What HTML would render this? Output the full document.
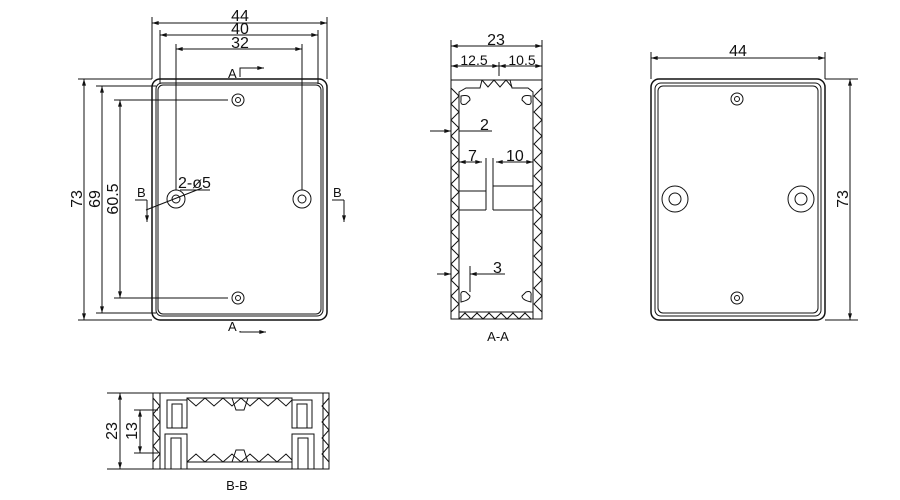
<!DOCTYPE html>
<html><head><style>
html,body{margin:0;padding:0;background:#fff;}
svg{display:block;}
text{font-family:"Liberation Sans",sans-serif;fill:#111;}
</style></head><body>
<svg width="900" height="500" viewBox="0 0 900 500" xmlns="http://www.w3.org/2000/svg">
<defs>
<marker id="a" viewBox="0 0 10 6" refX="10" refY="3" markerWidth="10" markerHeight="4" orient="auto-start-reverse"><path d="M0,0L10,3L0,6z" fill="#111"/></marker>
</defs>
<g stroke="#111" fill="none" stroke-width="1">
<!-- LEFT VIEW -->
<rect x="152" y="79" width="175" height="241" rx="8" stroke-width="1.5"/>
<rect x="156" y="83" width="167" height="233" rx="6"/>
<rect x="158" y="85" width="163" height="229" rx="5"/>
<circle cx="238" cy="100" r="6"/><circle cx="238" cy="100" r="2.5"/>
<circle cx="238" cy="298" r="6"/><circle cx="238" cy="298" r="2.5"/>
<circle cx="176" cy="199" r="9"/><circle cx="176" cy="199" r="4"/>
<circle cx="302" cy="199" r="9"/><circle cx="302" cy="199" r="4"/>
<line x1="152" y1="17" x2="152" y2="79"/><line x1="327" y1="17" x2="327" y2="79"/>
<line x1="160" y1="30" x2="160" y2="84"/><line x1="318" y1="30" x2="318" y2="84"/>
<line x1="176" y1="44" x2="176" y2="190"/><line x1="302" y1="44" x2="302" y2="190"/>
<line x1="152" y1="23" x2="327" y2="23" marker-start="url(#a)" marker-end="url(#a)"/>
<line x1="160" y1="35" x2="318" y2="35" marker-start="url(#a)" marker-end="url(#a)"/>
<line x1="176" y1="49" x2="302" y2="49" marker-start="url(#a)" marker-end="url(#a)"/>
<line x1="78" y1="79" x2="152" y2="79"/><line x1="78" y1="320" x2="152" y2="320"/>
<line x1="96" y1="86" x2="156" y2="86"/><line x1="96" y1="313" x2="156" y2="313"/>
<line x1="114" y1="100" x2="228" y2="100"/><line x1="114" y1="298" x2="228" y2="298"/>
<line x1="84" y1="79" x2="84" y2="320" marker-start="url(#a)" marker-end="url(#a)"/>
<line x1="102" y1="86" x2="102" y2="313" marker-start="url(#a)" marker-end="url(#a)"/>
<line x1="120" y1="100" x2="120" y2="298" marker-start="url(#a)" marker-end="url(#a)"/>
<line x1="146" y1="210" x2="202" y2="188"/><line x1="180" y1="190" x2="210" y2="190"/>
<polyline points="240,77 240,68 264,68"/><line x1="250" y1="68" x2="264" y2="68" marker-end="url(#a)"/>
<polyline points="240,331 240,332 264,332"/><line x1="252" y1="332" x2="266" y2="332" marker-end="url(#a)"/>
<polyline points="135,200 147,200"/><line x1="147" y1="200" x2="147" y2="222" marker-end="url(#a)"/>
<polyline points="332,200 344,200"/><line x1="344" y1="200" x2="344" y2="222" marker-end="url(#a)"/>
<!-- A-A SECTION -->
<rect x="451" y="80" width="91" height="239"/>
<polyline points="459,319 459,92 466,88 480,88 482,80"/>
<polyline points="533,319 533,92 528,88 512,88 510,80"/>
<line x1="459" y1="312" x2="533" y2="312"/>
<polyline points="451,88 459,96 451,104 459,112 451,120 459,128 451,136 459,144 451,152 459,160 451,168 459,176 451,184 459,192 451,200 459,208 451,216 459,224 451,232 459,240 451,248 459,256 451,264 459,272 451,280 459,288 451,296 459,304 451,312"/>
<polyline points="542,88 534,96 542,104 534,112 542,120 534,128 542,136 534,144 542,152 534,160 542,168 534,176 542,184 534,192 542,200 534,208 542,216 534,224 542,232 534,240 542,248 534,256 542,264 534,272 542,280 534,288 542,296 534,304 542,312"/>
<polyline points="482,80 488,87 494,80 500,87 506,80 512,87"/>
<polyline points="459,319 465,313 471,319 477,313 483,319 489,313 495,319 501,313 507,319 513,313 519,319 525,313 531,319"/>
<path d="M461,96 Q470,94 470,100 L466,104 Q460,106 461,100z"/>
<path d="M531,96 Q522,94 522,100 L526,104 Q532,106 531,100z"/>
<path d="M461,302 Q470,300 470,296 L466,292 Q460,290 461,296z"/>
<path d="M531,302 Q522,300 522,296 L526,292 Q532,290 531,296z"/>
<line x1="486" y1="158" x2="486" y2="210"/><line x1="493" y1="158" x2="493" y2="210"/>
<line x1="459" y1="191" x2="486" y2="191"/><line x1="459" y1="210" x2="486" y2="210"/>
<line x1="493" y1="186" x2="533" y2="186"/><line x1="493" y1="210" x2="533" y2="210"/>
<line x1="451" y1="40" x2="451" y2="80"/><line x1="542" y1="40" x2="542" y2="80"/>
<line x1="451" y1="46" x2="542" y2="46" marker-start="url(#a)" marker-end="url(#a)"/>
<line x1="451" y1="66" x2="499" y2="66" marker-start="url(#a)" marker-end="url(#a)"/>
<line x1="499" y1="66" x2="542" y2="66" marker-start="url(#a)" marker-end="url(#a)"/>
<line x1="499" y1="62" x2="499" y2="76"/>
<line x1="430" y1="131" x2="451" y2="131" marker-end="url(#a)"/><line x1="459" y1="131" x2="492" y2="131"/>
<line x1="459" y1="162" x2="482" y2="162" marker-start="url(#a)" marker-end="url(#a)"/>
<line x1="496" y1="162" x2="533" y2="162" marker-start="url(#a)" marker-end="url(#a)"/>
<line x1="437" y1="274" x2="451" y2="274" marker-end="url(#a)"/><line x1="470" y1="274" x2="505" y2="274" marker-start="url(#a)"/>
<line x1="470" y1="266" x2="470" y2="292"/>
<!-- RIGHT VIEW -->
<rect x="651" y="79" width="174" height="241" rx="8" stroke-width="1.5"/>
<rect x="655" y="83" width="166" height="233" rx="6"/>
<rect x="658" y="86" width="160" height="227" rx="5"/>
<circle cx="737" cy="99" r="6"/><circle cx="737" cy="99" r="2.5"/>
<circle cx="737" cy="298" r="6"/><circle cx="737" cy="298" r="2.5"/>
<circle cx="675" cy="199" r="13"/><circle cx="675" cy="199" r="6"/>
<circle cx="801" cy="199" r="13"/><circle cx="801" cy="199" r="6"/>
<line x1="651" y1="52" x2="651" y2="79"/><line x1="825" y1="52" x2="825" y2="79"/>
<line x1="651" y1="58" x2="825" y2="58" marker-start="url(#a)" marker-end="url(#a)"/>
<line x1="825" y1="79" x2="858" y2="79"/><line x1="825" y1="320" x2="858" y2="320"/>
<line x1="850" y1="79" x2="850" y2="320" marker-start="url(#a)" marker-end="url(#a)"/>
<!-- B-B SECTION -->
<rect x="153" y="393" width="176" height="76"/>
<line x1="160" y1="393" x2="160" y2="469"/><line x1="323" y1="393" x2="323" y2="469"/>
<polyline points="187,428 187,398 292,398 292,428"/>
<polyline points="187,436 187,462 292,462 292,436"/>
<polyline points="187,398 196,406 205,398 214,406 223,398 232,406 241,398 250,406 259,398 268,406 277,398 286,406 292,400"/>
<polyline points="187,462 196,454 205,462 214,454 223,462 232,454 241,462 250,454 259,462 268,454 277,462 286,454 292,460"/>
<path d="M232,398 L236,410 L244,410 L248,398"/>
<path d="M232,462 L236,450 L244,450 L248,462"/>
<rect x="167" y="400" width="20" height="28"/><rect x="172" y="404" width="10" height="24"/>
<rect x="165" y="434" width="22" height="35"/><rect x="171" y="438" width="10" height="31"/>
<rect x="292" y="400" width="20" height="28"/><rect x="297" y="404" width="10" height="24"/>
<rect x="292" y="434" width="22" height="35"/><rect x="298" y="438" width="10" height="31"/>
<polyline points="153,398 160,406 153,414 160,422 153,430 160,438 153,446 160,454 153,462"/>
<polyline points="329,398 322,406 329,414 322,422 329,430 322,438 329,446 322,454 329,462"/>
<line x1="107" y1="393" x2="153" y2="393"/><line x1="107" y1="469" x2="153" y2="469"/>
<line x1="134" y1="410" x2="158" y2="410"/><line x1="134" y1="453" x2="158" y2="453"/>
<line x1="120" y1="393" x2="120" y2="469" marker-start="url(#a)" marker-end="url(#a)"/>
<line x1="140" y1="410" x2="140" y2="453" marker-start="url(#a)" marker-end="url(#a)"/>
</g>
<g font-size="16">
<text x="240" y="21" text-anchor="middle">44</text>
<text x="240" y="34" text-anchor="middle">40</text>
<text x="240" y="48" text-anchor="middle">32</text>
<text x="228" y="78" font-size="13">A</text>
<text x="228" y="331" font-size="13">A</text>
<text x="137" y="197" font-size="13">B</text>
<text x="333" y="197" font-size="13">B</text>
<text x="178" y="188">2-ø5</text>
<text transform="translate(82,199) rotate(-90)" text-anchor="middle">73</text>
<text transform="translate(100,199) rotate(-90)" text-anchor="middle">69</text>
<text transform="translate(118,199) rotate(-90)" text-anchor="middle">60.5</text>
<text x="496" y="45" text-anchor="middle">23</text>
<text x="474" y="65" text-anchor="middle" font-size="14">12.5</text>
<text x="522" y="65" text-anchor="middle" font-size="14">10.5</text>
<text x="480" y="130">2</text>
<text x="468" y="161">7</text>
<text x="506" y="161">10</text>
<text x="493" y="273">3</text>
<text x="498" y="341" text-anchor="middle" font-size="13">A-A</text>
<text x="738" y="56" text-anchor="middle">44</text>
<text transform="translate(848,199) rotate(-90)" text-anchor="middle">73</text>
<text transform="translate(117,431) rotate(-90)" text-anchor="middle">23</text>
<text transform="translate(137,431) rotate(-90)" text-anchor="middle">13</text>
<text x="237" y="490" text-anchor="middle" font-size="13">B-B</text>
</g>
</svg>
</body></html>
